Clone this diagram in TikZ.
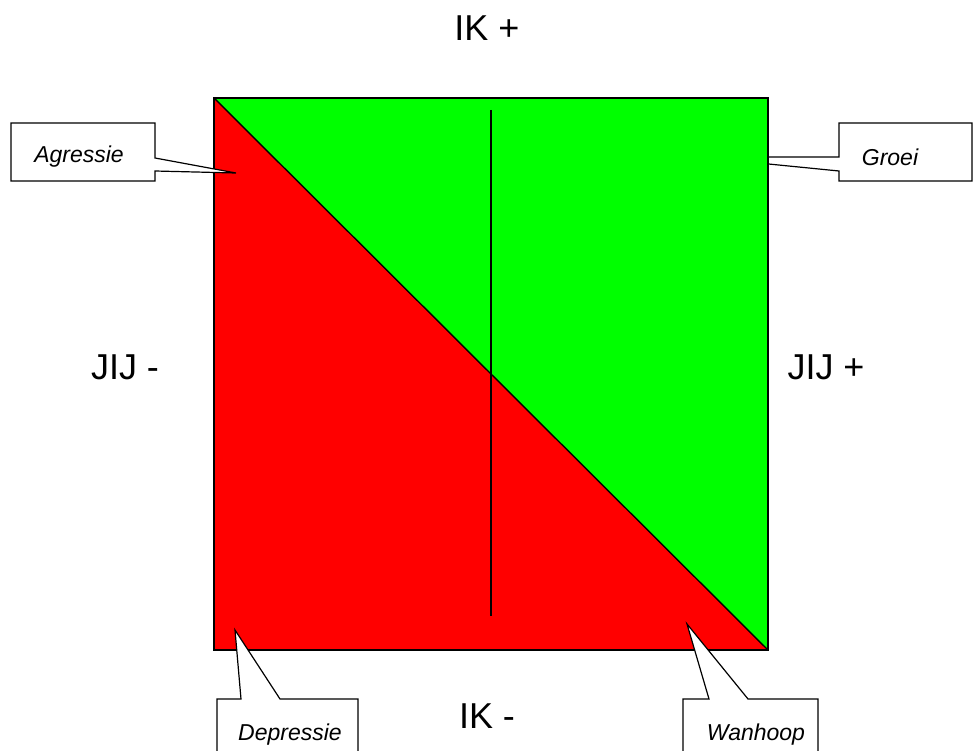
\documentclass[tikz,border=0pt]{standalone}
\usepackage{fontspec}
\setmainfont{Liberation Sans}
\definecolor{groen}{RGB}{0,255,0}
\definecolor{rood}{RGB}{255,0,0}
\begin{document}
\begin{tikzpicture}[x=1pt, y=-1pt,
    bigtext/.style={font=\fontsize{36}{36}\selectfont, anchor=base, inner sep=0pt},
    calltext/.style={font=\fontsize{23}{23}\selectfont\itshape, anchor=base, inner sep=0pt},
    callbox/.style={draw=black, fill=white, line width=1.2pt, line join=miter},
    edge/.style={draw=black, line width=1.8pt}
]
    \useasboundingbox (0,0) rectangle (973,751);

    % Corners of the square
    \coordinate (nw) at (214,98);
    \coordinate (ne) at (768,98);
    \coordinate (se) at (768,650);
    \coordinate (sw) at (214,650);

    % Groei (pointer behind the square)
    \coordinate (groeitip) at (698,157);
    \draw[callbox] (839,123) -- (972,123) -- (972,181) -- (839,181) -- (839,171)
        -- (groeitip) -- (839,157) -- cycle;
    \node[calltext] (groei) at (890,166) {Groei};

    % Square
    \fill[groen] (nw) -- (ne) -- (se) -- cycle;
    \fill[rood] (nw) -- (sw) -- (se) -- cycle;
    \draw[line width=1.4pt] (nw) -- (se);
    \draw[line width=1.4pt] (491,110) -- (491,616);
    \draw[edge] (nw) rectangle (se);

    % Agressie
    \coordinate (agrtip) at (236,173);
    \draw[callbox] (11,123) -- (155,123) -- (155,158) -- (agrtip) -- (155,171)
        -- (155,181) -- (11,181) -- cycle;
    \node[calltext] (agr) at (79,163) {Agressie};

    % Depressie
    \coordinate (deptip) at (235,630);
    \draw[callbox] (217,760) -- (217,699) -- (241,699) -- (deptip) -- (280,699)
        -- (358,699) -- (358,760);
    \node[calltext] (dep) at (290,740) {Depressie};

    % Wanhoop
    \coordinate (wantip) at (687,624);
    \draw[callbox] (683,760) -- (683,699) -- (709,699) -- (wantip) -- (748,699)
        -- (818,699) -- (818,760);
    \node[calltext] (wan) at (756,740) {Wanhoop};

    % Labels
    \node[bigtext] (ikplus) at (487,41) {IK +};
    \node[bigtext] (ikmin) at (487,728) {IK -};
    \node[bigtext] (jijmin) at (125,379) {JIJ -};
    \node[bigtext] (jijplus) at (826,379) {JIJ +};
\end{tikzpicture}
\end{document}
